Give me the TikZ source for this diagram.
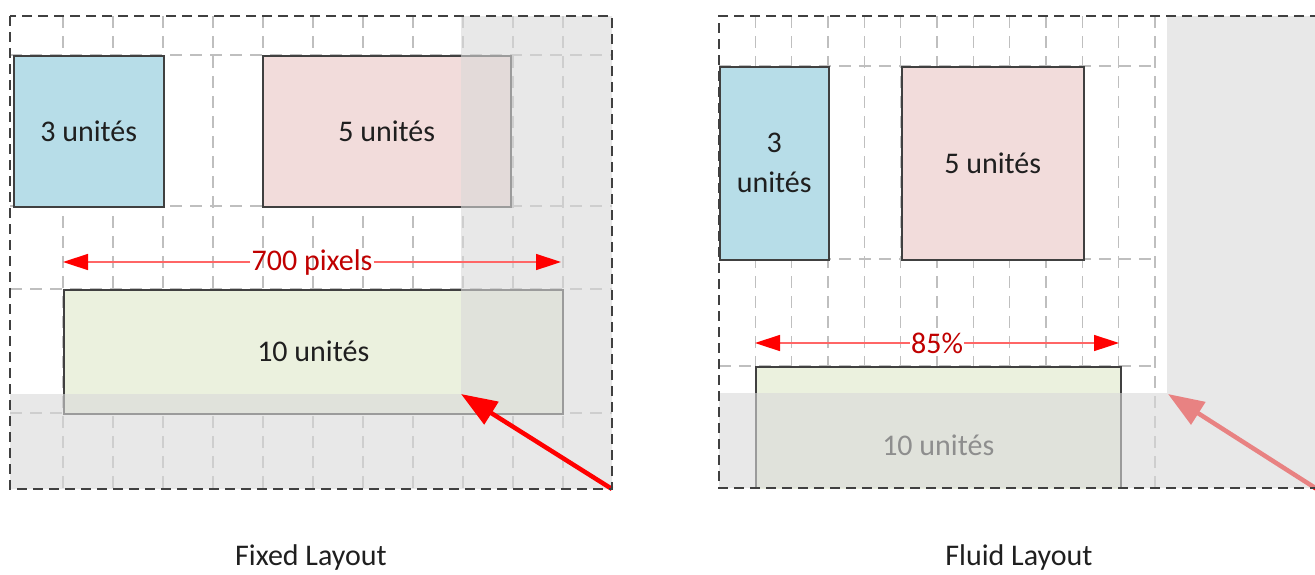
\documentclass[tikz,border=0pt]{standalone}
\usepackage{fontspec}
\setmainfont{Carlito}
\usetikzlibrary{arrows.meta}

\definecolor{cellblue}{HTML}{B7DDE8}
\definecolor{cellpink}{HTML}{F2DCDB}
\definecolor{cellgreen}{HTML}{EBF1DE}
\definecolor{veil}{HTML}{D9D9D9}
\definecolor{gridgray}{HTML}{BFBFBF}
\definecolor{framegray}{HTML}{404040}
\definecolor{labelred}{HTML}{C00000}
\definecolor{inkdark}{HTML}{1F1F1F}

\begin{document}
\begin{tikzpicture}[x=1pt,y=-1pt,
  font=\fontsize{30}{36}\selectfont,
  gridline/.style={draw=gridgray, line width=1.5pt, dash pattern=on 12pt off 8pt},
  frame/.style={draw=framegray, line width=2pt, dash pattern=on 10pt off 6pt},
  unit/.style={draw=framegray, line width=1.5pt, inner sep=0pt, text=inkdark, anchor=north west},
  veiled/.style={fill=veil, opacity=0.6},
  measure/.style={draw=red!60, line width=1.5pt, -{Triangle[length=25pt,width=16pt,color=red]}},
  measurelabel/.style={text=labelred, inner sep=1pt},
  pointer/.style={draw=red, line width=4.5pt, -{Triangle[length=36pt,width=26pt]}},
  caption/.style={text=inkdark, anchor=base}]

\useasboundingbox (0,0) rectangle (1315,574);
\clip (0,0) rectangle (1315,574);

% ---------- Fixed layout: 12 columns of 50 units ----------
\foreach \i in {1,...,11}
  \draw[gridline] ({13+50*\i},16) -- ({13+50*\i},489);
\foreach \yy in {55,206,289,413}
  \draw[gridline] (10,\yy) -- (612,\yy);

\node[unit, fill=cellblue,  minimum width=150pt, minimum height=151pt] (fixA) at (13,55)  {3 unités};
\node[unit, fill=cellpink,  minimum width=248pt, minimum height=151pt] (fixB) at (262,55) {5 unités};
\node[unit, fill=cellgreen, minimum width=499pt, minimum height=124pt] (fixC) at (63,289) {10 unités};

% area beyond the viewport
\path[veiled] (461,16) -- (612,16) -- (612,489) -- (10,489) -- (10,394) -- (461,394) -- cycle;

% width measure
\node[measurelabel] (fixW) at (312,262) {700 pixels};
\coordinate (fixL) at (63,262);
\coordinate (fixR) at (561,262);
\draw[measure] (fixW.west) -- (fixL);
\draw[measure] (fixW.east) -- (fixR);

% pointer to the viewport corner
\coordinate (fixTail) at (612,489);
\coordinate (fixTip) at (461,394);
\draw[pointer] (fixTail) -- (fixTip);

\draw[frame] (10,16) rectangle (612,489);

\node[caption] (fixCap) at (311,565) {Fixed Layout};

% ---------- Fluid layout: 12 columns scaled to the viewport ----------
\foreach \i in {1,...,12}
  \draw[gridline] ({719+436/12*\i},16) -- ({719+436/12*\i},488);
\foreach \yy in {66,259,366}
  \draw[gridline] (719,\yy) -- (1155,\yy);

\node[unit, fill=cellblue, minimum width=109pt, minimum height=193pt, align=center,
      font=\fontsize{30}{40}\selectfont] (fluA) at (719,66) {3\\unités};
\node[unit, fill=cellpink, minimum width=182pt, minimum height=193pt] (fluB) at (901,66) {5 unités};
\begin{scope}
  \clip (719,16) rectangle (1315,488);
  \node[unit, fill=cellgreen, minimum width=365pt, minimum height=158pt] (fluC) at (755,366) {10 unités};
\end{scope}

% pointer to the viewport corner
\coordinate (fluTail) at (1320,491);
\coordinate (fluTip) at (1168,394);
\draw[pointer] (fluTail) -- (fluTip);

% area beyond the viewport
\path[veiled] (1167,16) -- (1320,16) -- (1320,488) -- (719,488) -- (719,393) -- (1167,393) -- cycle;

% width measure
\node[measurelabel] (fluW) at (937,343) {85\%};
\coordinate (fluL) at (755,343);
\coordinate (fluR) at (1119,343);
\draw[measure] (fluW.west) -- (fluL);
\draw[measure] (fluW.east) -- (fluR);

\draw[frame] (1320,16) -- (719,16) -- (719,488) -- (1320,488);

\node[caption] (fluCap) at (1019,565) {Fluid Layout};

\end{tikzpicture}
\end{document}
